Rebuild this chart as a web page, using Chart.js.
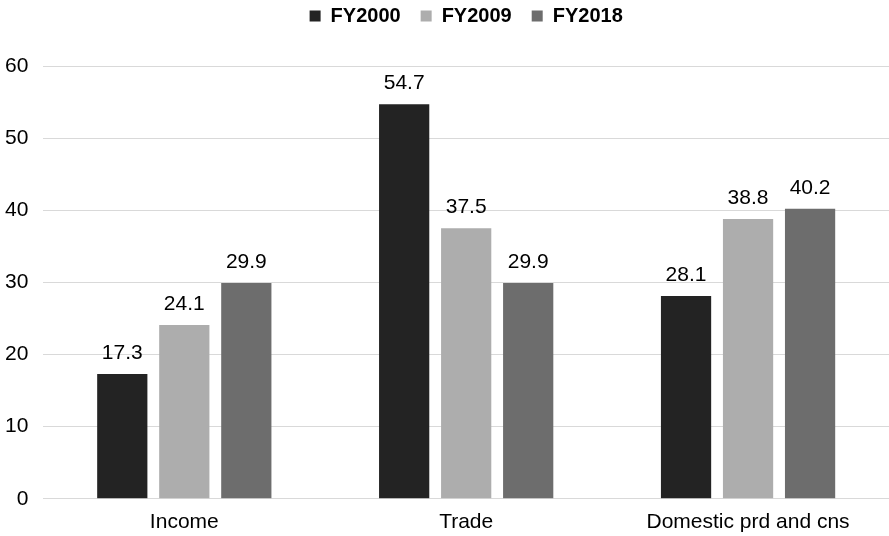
<!DOCTYPE html>
<html>
<head>
<meta charset="utf-8">
<script src="https://cdn.jsdelivr.net/npm/chart.js@4.4.1/dist/chart.umd.min.js"></script>
<style>
  html, body { margin: 0; padding: 0; background: #fff; }
  #wrap { width: 889px; height: 536px; position: relative; }
</style>
</head>
<body>
<div id="wrap"><canvas id="chart"></canvas></div>
<script>
const categories = ['Income', 'Trade', 'Domestic prd and cns'];
const fy2000 = [17.3, 54.7, 28.1];
const fy2009 = [24.1, 37.5, 38.8];
const fy2018 = [29.9, 29.9, 40.2];
const yTicks = [0, 10, 20, 30, 40, 50, 60];

const FONT = '"Liberation Sans", Arial, Helvetica, sans-serif';
const LEGEND_HEIGHT = 80;

// Writes each bar's value just above its top
const valueLabels = {
  id: 'valueLabels',
  afterDatasetsDraw(chart) {
    const ctx = chart.ctx;
    ctx.save();
    ctx.font = '21px ' + FONT;
    ctx.fillStyle = '#000';
    ctx.textAlign = 'center';
    ctx.textBaseline = 'alphabetic';
    chart.data.datasets.forEach((ds, i) => {
      const meta = chart.getDatasetMeta(i);
      meta.data.forEach((bar, j) => {
        ctx.fillText(ds.data[j].toFixed(1), bar.x, bar.y - 15);
      });
    });
    ctx.restore();
  }
};

// Leaves a fixed band between the legend and the plot
const legendBand = {
  id: 'legendBand',
  beforeInit(chart) {
    const legend = chart.legend;
    if (!legend) return;
    const fit = legend.fit;
    legend.fit = function () {
      fit.call(this);
      this.height = LEGEND_HEIGHT;
    };
  }
};

new Chart(document.getElementById('chart'), {
  type: 'bar',
  data: {
    labels: categories,
    datasets: [
      { label: 'FY2000', data: fy2000, backgroundColor: '#232323' },
      { label: 'FY2009', data: fy2009, backgroundColor: '#adadad' },
      { label: 'FY2018', data: fy2018, backgroundColor: '#6d6d6d' }
    ]
  },
  options: {
    responsive: true,
    maintainAspectRatio: false,
    animation: false,
    layout: { padding: { left: -10, right: 0, top: -14, bottom: -10 } },
    datasets: { bar: { categoryPercentage: 0.66, barPercentage: 0.81 } },
    plugins: {
      legend: {
        position: 'top',
        fullSize: false,
        labels: {
          boxWidth: 11,
          boxHeight: 11,
          padding: 20,
          color: '#000',
          font: { family: FONT, size: 20, weight: 'bold' }
        }
      },
      tooltip: { enabled: false }
    },
    scales: {
      x: {
        grid: { display: false, drawTicks: false },
        border: { display: false },
        ticks: { color: '#000', font: { family: FONT, size: 21 }, padding: 11 }
      },
      y: {
        min: 0,
        max: 60,
        afterBuildTicks(axis) { axis.ticks = yTicks.map(v => ({ value: v })); },
        grid: { color: '#d9d9d9', lineWidth: 1, drawTicks: false },
        border: { display: false },
        ticks: { color: '#000', font: { family: FONT, size: 21 }, padding: 15 }
      }
    }
  },
  plugins: [legendBand, valueLabels]
});
</script>
</body>
</html>
